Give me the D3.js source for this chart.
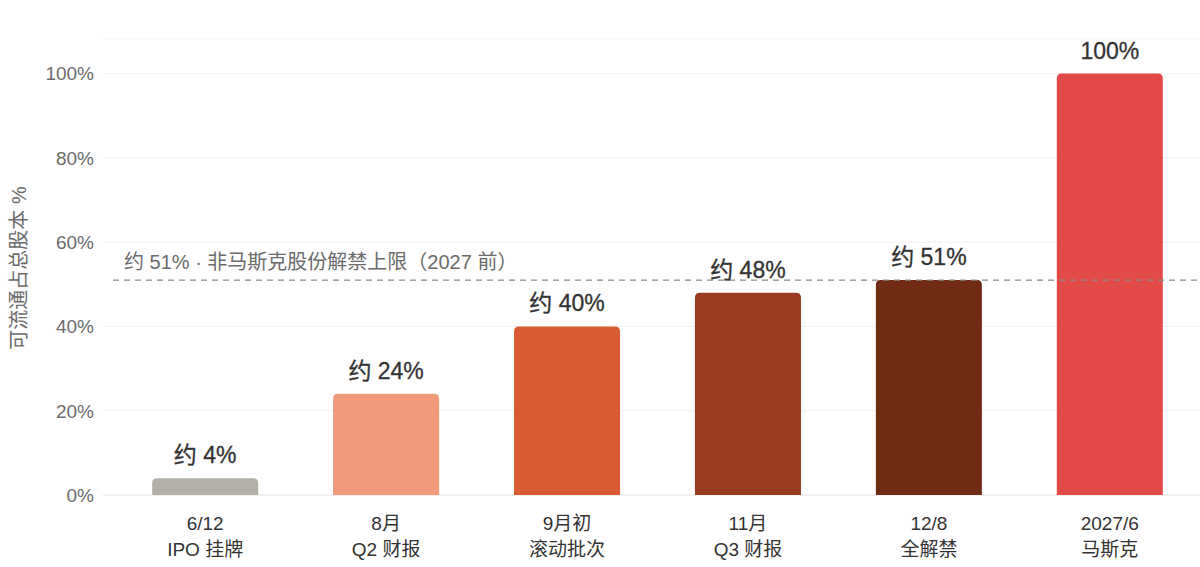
<!DOCTYPE html>
<html>
<head>
<meta charset="utf-8">
<script src="https://cdn.jsdelivr.net/npm/d3@7"></script>
<style>
body { margin: 0; background: #fff; }
svg { display: block; font-family: "Liberation Sans", "Noto Sans CJK SC", sans-serif; }
</style>
</head>
<body>
<svg id="chart" width="1200" height="567"></svg>
<script>
// data
var dates = ["6/12", "8月", "9月初", "11月", "12/8", "2027/6"];
var events = ["IPO 挂牌", "Q2 财报", "滚动批次", "Q3 财报", "全解禁", "马斯克"];
var values = [4, 24, 40, 48, 51, 100];
var valueLabels = ["约 4%", "约 24%", "约 40%", "约 48%", "约 51%", "100%"];
var barColors = ["#b1afa6", "#f09a7c", "#d85b31", "#983b1e", "#712b14", "#e24a4a"];
var yTicks = [0, 20, 40, 60, 80, 100];
var capValue = 51;
var capLabel = "约 51% · 非马斯克股份解禁上限（2027 前）";
var yTitle = "可流通占总股本 %";

var svg = d3.select("#chart");
// note: "top" is taken by window.top, so plot edges get their own names
var plotLeft = 103, plotRight = 1200, plotTop = 39, plotBottom = 495;

var x = d3.scaleBand()
	.domain(d3.range(values.length))
	.range([116, 1199])
	.paddingInner(0.414)
	.paddingOuter(0.2);

var y = d3.scaleLinear()
	.domain([0, 108.2])
	.range([plotBottom, plotTop]);

// gridlines
svg.append("line")
	.attr("x1", plotLeft).attr("x2", plotRight)
	.attr("y1", plotTop).attr("y2", plotTop)
	.style("stroke", "#f2f2f2");

svg.append("g")
	.selectAll("line")
	.data(yTicks)
	.enter()
	.append("line")
		.attr("x1", plotLeft).attr("x2", plotRight)
		.attr("y1", d => y(d)).attr("y2", d => y(d))
		.style("stroke", d => d == 0 ? "#e2e2e2" : "#f0f0f0")
		.style("stroke-width", 1);

// y tick labels
svg.append("g")
	.selectAll("text")
	.data(yTicks)
	.enter()
	.append("text")
		.attr("x", 94)
		.attr("y", d => y(d))
		.attr("dy", "0.36em")
		.attr("text-anchor", "end")
		.attr("font-size", "19px")
		.attr("fill", "#6b6b6b")
		.text(d => d + "%");

// y axis title
svg.append("text")
	.attr("transform", "translate(26," + 268 + ")rotate(-90)")
	.attr("text-anchor", "middle")
	.attr("font-size", "20px")
	.attr("fill", "#6b6b6b")
	.text(yTitle);

// bars with rounded tops
var r = 5;
function barPath(i) {
	var x0 = x(i), x1 = x(i) + x.bandwidth();
	var y0 = y(values[i]), y1 = y(0);
	return "M" + x0 + "," + y1 +
		"V" + (y0 + r) +
		"Q" + x0 + "," + y0 + " " + (x0 + r) + "," + y0 +
		"H" + (x1 - r) +
		"Q" + x1 + "," + y0 + " " + x1 + "," + (y0 + r) +
		"V" + y1 + "Z";
}

svg.append("g")
	.selectAll("path")
	.data(values)
	.enter()
	.append("path")
		.attr("d", (d, i) => barPath(i))
		.style("fill", (d, i) => barColors[i]);

// cap line
svg.append("line")
	.attr("x1", 113).attr("x2", plotRight)
	.attr("y1", y(capValue)).attr("y2", y(capValue))
	.style("stroke", "#8a8a8a")
	.style("stroke-width", 1.2)
	.style("stroke-dasharray", "6,5");

svg.append("text")
	.attr("x", 124)
	.attr("y", y(capValue) - 11)
	.attr("font-size", "20px")
	.attr("fill", "#6b6b6b")
	.text(capLabel);

// value labels (medium weight faked with a thin stroke)
svg.append("g")
	.selectAll("text")
	.data(values)
	.enter()
	.append("text")
		.attr("x", (d, i) => x(i) + x.bandwidth() / 2)
		.attr("y", d => y(d) - 15)
		.attr("text-anchor", "middle")
		.attr("font-size", "23px")
		.attr("fill", "#333")
		.style("stroke", "#333")
		.style("stroke-width", 0.3)
		.text((d, i) => valueLabels[i]);

// x labels
var xl = svg.append("g")
	.selectAll("text")
	.data(dates)
	.enter()
	.append("text")
		.attr("x", (d, i) => x(i) + x.bandwidth() / 2)
		.attr("text-anchor", "middle")
		.attr("font-size", "19px")
		.attr("fill", "#333");
xl.append("tspan")
	.attr("x", (d, i) => x(i) + x.bandwidth() / 2)
	.attr("y", 530)
	.text(d => d);
xl.append("tspan")
	.attr("x", (d, i) => x(i) + x.bandwidth() / 2)
	.attr("y", 556)
	.text((d, i) => events[i]);
</script>
</body>
</html>
